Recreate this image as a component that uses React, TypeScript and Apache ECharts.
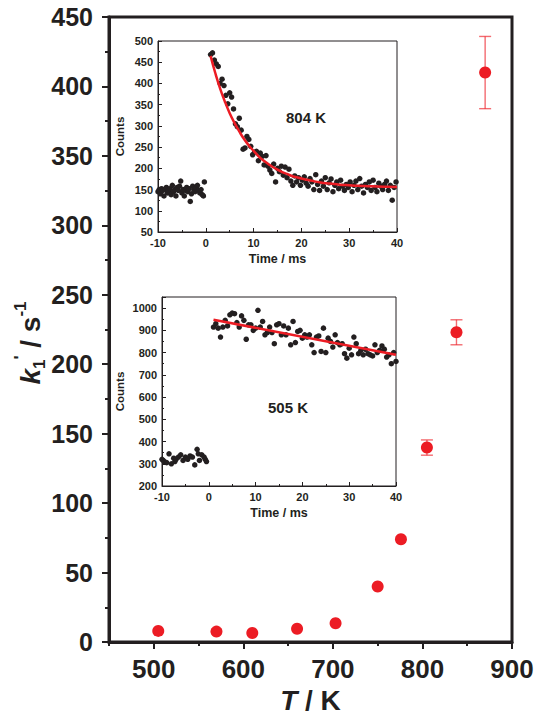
import React, { useEffect, useRef } from "react";
import * as echarts from "echarts";

const FONT = '"Liberation Sans", Arial, Helvetica, sans-serif';
const INK = "#231f20";
const RED = "#ec1c24";

// Main plot: temperature (K) vs k1' (s^-1)
const temps = [505, 570, 610, 660, 703, 750, 776, 805, 838, 870];
const k1Values = [8, 7.5, 6.5, 9.5, 13.5, 40, 74, 140, 223, 410];
const errTemps = [805, 838, 870];
const errCenter = [140, 223, 410];
const errHalf = [5.5, 9, 26];

const mainXLabels = [500, 600, 700, 800, 900];
const mainXMinorTicks = [450, 550, 650, 750, 850];

// Inset 1: 804 K decay trace (time ms, counts)
const trace804Pre: [number, number][] = [
  [-10, 145], [-9.75, 150], [-9.5, 140], [-9.25, 152], [-9, 148], [-8.75, 135], [-8.5, 150], [-8.25, 155],
  [-8, 142], [-7.75, 148], [-7.5, 152], [-7.25, 138], [-7, 160], [-6.75, 145], [-6.5, 150], [-6.25, 135],
  [-6, 155], [-5.75, 148], [-5.5, 158], [-5.25, 170], [-5, 142], [-4.75, 150], [-4.5, 135], [-4.25, 148],
  [-4, 155], [-3.75, 145], [-3.5, 152], [-3.25, 122], [-3, 140], [-2.75, 158], [-2.5, 150], [-2.25, 145],
  [-2, 155], [-1.75, 160], [-1.5, 148], [-1.25, 142], [-1, 150], [-0.75, 138], [-0.5, 135], [-0.3, 168],
];
const trace804Post: [number, number][] = [
  [1.0, 468], [1.4, 472], [1.8, 455], [2.2, 446], [2.6, 440], [3.0, 400], [3.4, 410], [3.8, 395],
  [4.2, 372], [4.6, 352], [5.0, 378], [5.4, 368], [5.8, 340], [6.2, 305], [6.6, 298], [7.0, 318],
  [7.4, 290], [7.8, 245], [8.2, 248], [8.6, 275], [9.0, 268], [9.4, 252], [9.8, 232], [10.2, 238],
  [10.6, 240], [11.0, 218], [11.4, 236], [11.8, 228], [12.2, 208], [12.6, 230], [13.0, 205], [13.4, 196],
  [13.8, 188], [14.2, 210], [14.6, 168], [15.0, 200], [15.4, 192], [15.8, 205], [16.2, 184], [16.6, 203],
  [17.0, 178], [17.4, 198], [17.8, 170], [18.2, 160], [18.6, 182], [19.0, 168], [19.4, 178], [19.8, 160],
  [20.2, 172], [20.6, 180], [21.0, 165], [21.4, 158], [21.8, 176], [22.2, 168], [22.6, 150], [23.0, 185],
  [23.4, 162], [23.8, 148], [24.2, 170], [24.6, 158], [25.0, 178], [25.4, 150], [25.8, 166], [26.2, 175],
  [26.6, 145], [27.0, 160], [27.4, 168], [27.8, 152], [28.2, 172], [28.6, 158], [29.0, 148], [29.4, 162],
  [29.8, 155], [30.2, 168], [30.6, 145], [31.0, 160], [31.4, 170], [31.8, 150], [32.2, 176], [32.6, 158],
  [33.0, 142], [33.4, 162], [33.8, 155], [34.2, 168], [34.6, 148], [35.0, 172], [35.4, 155], [35.8, 145],
  [36.2, 165], [36.6, 158], [37.0, 150], [37.4, 162], [37.8, 170], [38.2, 148], [38.6, 160], [39.0, 125],
  [39.4, 155], [39.8, 168],
];
const fit804: [number, number][] = [
  [1, 465], [2, 424], [3, 388], [4, 357], [5, 330], [6, 307], [7, 287], [8, 269], [9, 254], [10, 241],
  [11, 229], [12, 219], [13, 211], [14, 203], [15, 197], [16, 191], [17, 187], [18, 182], [19, 179],
  [20, 176], [22, 171], [24, 166.5], [26, 164], [28, 161.5], [30, 160], [32, 158.7], [34, 157.8],
  [36, 157], [38, 156.5], [40, 156],
];

// Inset 2: 505 K trace
const trace505Pre: [number, number][] = [
  [-10, 320], [-9.75, 315], [-9.5, 310], [-9, 305], [-8.5, 345], [-8, 300], [-7.5, 325], [-7.25, 310],
  [-7, 320], [-6.5, 330], [-6, 340], [-5.5, 315], [-5, 330], [-4.75, 325], [-4.5, 320], [-4, 335],
  [-3.5, 330], [-3, 295], [-2.5, 365], [-2.25, 345], [-2, 315], [-1.5, 340], [-1, 330], [-0.75, 320], [-0.5, 310],
];
const trace505Post: [number, number][] = [
  [1.0, 915], [1.5, 930], [2.0, 910], [2.5, 870], [3.0, 915], [3.5, 945], [4.0, 920], [4.5, 970],
  [5.0, 978], [5.5, 975], [6.0, 935], [6.5, 915], [7.0, 965], [7.5, 945], [8.0, 860], [8.5, 925],
  [9.0, 925], [9.5, 900], [10.0, 910], [10.5, 990], [11.0, 915], [11.5, 940], [12.0, 880], [12.5, 890],
  [13.0, 915], [13.5, 890], [14.0, 840], [14.5, 925], [15.0, 930], [15.5, 880], [16.0, 920], [16.5, 880],
  [17.0, 910], [17.5, 835], [18.0, 940], [18.5, 845], [19.0, 895], [19.5, 900], [20.0, 865], [20.5, 880],
  [21.0, 870], [21.5, 880], [22.0, 835], [22.5, 800], [23.0, 870], [23.5, 875], [24.0, 805], [24.5, 910],
  [25.0, 800], [25.5, 865], [26.0, 850], [26.5, 825], [27.0, 880], [27.5, 845], [28.0, 835], [28.5, 840],
  [29.0, 795], [29.5, 775], [30.0, 820], [30.5, 790], [31.0, 870], [31.5, 840], [32.0, 795], [32.5, 810],
  [33.0, 790], [33.5, 815], [34.0, 795], [34.5, 790], [35.0, 785], [35.5, 835], [36.0, 800], [36.5, 810],
  [37.0, 830], [37.5, 815], [38.0, 780], [38.5, 790], [39.0, 750], [39.5, 800], [40.0, 760],
];
const fit505: [number, number][] = [[1, 948], [40, 790]];

export default function App() {
  const ref = useRef<HTMLDivElement>(null);

  useEffect(() => {
    if (!ref.current) return;
    const chart = echarts.init(ref.current, null, { renderer: "svg" });

    const insetAxisCommon = (extra: any) => ({
      axisLine: { show: true, onZero: false, lineStyle: { color: INK, width: 1 } },
      axisTick: { show: true, inside: true, length: 4, lineStyle: { color: INK, width: 1 } },
      minorTick: { show: true, splitNumber: 2, length: 2, lineStyle: { color: INK, width: 1 } },
      axisLabel: {
        fontFamily: FONT, fontWeight: "bold", fontSize: 11, color: INK, margin: 5,
        showMaxLabel: extra.hideMax ? false : true,
        formatter: (v: number) => String(v),
      },
      splitLine: { show: false },
      nameLocation: "middle",
      nameTextStyle: { fontFamily: FONT, fontWeight: "bold", fontSize: 11.5, color: INK },
      ...extra,
    });

    const option: any = {
      animation: false,
      backgroundColor: "#ffffff",
      grid: [
        { left: 109, top: 17, width: 403, height: 625, show: true, borderColor: INK, borderWidth: 3, backgroundColor: "transparent", outerBoundsMode: "none", containLabel: false },
        { left: 158, top: 41, width: 239, height: 191, show: true, borderColor: INK, borderWidth: 1, backgroundColor: "transparent", outerBoundsMode: "none", containLabel: false },
        { left: 162, top: 297, width: 234, height: 189, show: true, borderColor: INK, borderWidth: 1, backgroundColor: "transparent", outerBoundsMode: "none", containLabel: false },
      ],
      xAxis: [
        {
          type: "value", gridIndex: 0, min: 450, max: 900, position: "bottom",
          axisLine: { show: true, onZero: false, lineStyle: { color: INK, width: 3 } },
          axisTick: { show: true, customValues: mainXLabels, length: 7, lineStyle: { color: INK, width: 2 } },
          axisLabel: { customValues: mainXLabels, fontFamily: FONT, fontWeight: "bold", fontSize: 26, color: INK, margin: 14 },
          splitLine: { show: false },
          name: "{t|T}{n| / K}",
          nameLocation: "middle",
          nameGap: 40,
          nameTextStyle: {
            rich: {
              t: { fontFamily: FONT, fontWeight: "bold", fontStyle: "italic", fontSize: 28, color: INK },
              n: { fontFamily: FONT, fontWeight: "bold", fontSize: 28, color: INK },
            },
          },
        },
        {
          type: "value", gridIndex: 0, min: 450, max: 900, position: "bottom",
          axisLine: { show: false, onZero: false },
          axisTick: { show: true, customValues: mainXMinorTicks, length: 4, lineStyle: { color: INK, width: 2 } },
          axisLabel: { show: false },
          splitLine: { show: false },
        },
        insetAxisCommon({ type: "value", gridIndex: 1, min: -10, max: 40, interval: 10, name: "Time / ms", nameGap: 20, nameTextStyle: { fontFamily: FONT, fontWeight: "bold", fontSize: 12.5, color: INK } }),
        insetAxisCommon({ type: "value", gridIndex: 2, min: -10, max: 40, interval: 10, name: "Time / ms", nameGap: 20, nameTextStyle: { fontFamily: FONT, fontWeight: "bold", fontSize: 12.5, color: INK } }),
      ],
      yAxis: [
        {
          type: "value", gridIndex: 0, min: 0, max: 450, interval: 50,
          axisLine: { show: true, onZero: false, lineStyle: { color: INK, width: 3 } },
          axisTick: { show: true, length: 7, lineStyle: { color: INK, width: 2 } },
          minorTick: { show: true, splitNumber: 2, length: 4, lineStyle: { color: INK, width: 2 } },
          axisLabel: { fontFamily: FONT, fontWeight: "bold", fontSize: 25, color: INK, margin: 16 },
          splitLine: { show: false },
        },
        insetAxisCommon({ type: "value", gridIndex: 1, min: 50, max: 500, interval: 50, name: "Counts", nameRotate: 90, nameGap: 32 }),
        insetAxisCommon({ type: "value", gridIndex: 2, min: 200, max: 1050, interval: 100, hideMax: true, name: "Counts", nameRotate: 90, nameGap: 36 }),
      ],
      graphic: [
        {
          type: "text",
          x: 30,
          y: 343,
          rotation: Math.PI / 2,
          style: {
            text: "{k|k}{sub|1}{sup|'}{n| / s}{sup|-1}",
            align: "center",
            verticalAlign: "middle",
            rich: {
              k: { fontFamily: FONT, fontWeight: "bold", fontStyle: "italic", fontSize: 28, fill: INK, lineHeight: 36 },
              n: { fontFamily: FONT, fontWeight: "bold", fontSize: 28, fill: INK, lineHeight: 36 },
              sub: { fontFamily: FONT, fontWeight: "bold", fontSize: 17, fill: INK, lineHeight: 20, verticalAlign: "bottom" },
              sup: { fontFamily: FONT, fontWeight: "bold", fontSize: 17, fill: INK, lineHeight: 20, verticalAlign: "top" },
            },
          },
        },
        { type: "text", left: 286, top: 110, style: { text: "804 K", fontFamily: FONT, fontWeight: "bold", fontSize: 15, fill: INK } },
        { type: "text", left: 268, top: 400, style: { text: "505 K", fontFamily: FONT, fontWeight: "bold", fontSize: 15, fill: INK } },
      ],
      series: [
        {
          type: "custom",
          xAxisIndex: 0,
          yAxisIndex: 0,
          z: 2,
          data: errTemps.map((t, i) => [t, errCenter[i] - errHalf[i], errCenter[i] + errHalf[i]]),
          renderItem: (params: any, api: any) => {
            const x = api.value(0);
            const lo = api.coord([x, api.value(1)]);
            const hi = api.coord([x, api.value(2)]);
            const cap = 6;
            const style = { stroke: "rgba(236,28,36,0.65)", lineWidth: 1.4 };
            return {
              type: "group",
              children: [
                { type: "line", shape: { x1: lo[0], y1: lo[1], x2: hi[0], y2: hi[1] }, style },
                { type: "line", shape: { x1: lo[0] - cap, y1: lo[1], x2: lo[0] + cap, y2: lo[1] }, style },
                { type: "line", shape: { x1: hi[0] - cap, y1: hi[1], x2: hi[0] + cap, y2: hi[1] }, style },
              ],
            };
          },
        },
        {
          type: "scatter",
          xAxisIndex: 0,
          yAxisIndex: 0,
          z: 3,
          symbol: "circle",
          symbolSize: 12,
          itemStyle: { color: RED, opacity: 1 },
          data: temps.map((t, i) => [t, k1Values[i]]),
        },
        {
          type: "scatter", xAxisIndex: 2, yAxisIndex: 1, symbolSize: 5.5,
          itemStyle: { color: INK, opacity: 1 }, data: [...trace804Pre, ...trace804Post],
        },
        {
          type: "line", xAxisIndex: 2, yAxisIndex: 1, smooth: true, showSymbol: false, z: 4,
          lineStyle: { color: RED, width: 2.5 }, data: fit804,
        },
        {
          type: "scatter", xAxisIndex: 3, yAxisIndex: 2, symbolSize: 5.5,
          itemStyle: { color: INK, opacity: 1 }, data: [...trace505Pre, ...trace505Post],
        },
        {
          type: "line", xAxisIndex: 3, yAxisIndex: 2, showSymbol: false, z: 4,
          lineStyle: { color: RED, width: 2.5 }, data: fit505,
        },
      ],
    };

    chart.setOption(option);
    return () => chart.dispose();
  }, []);

  return (
    <div
      ref={ref}
      style={{ position: "fixed", left: 0, top: 0, width: 537, height: 718, background: "#fff" }}
    />
  );
}
